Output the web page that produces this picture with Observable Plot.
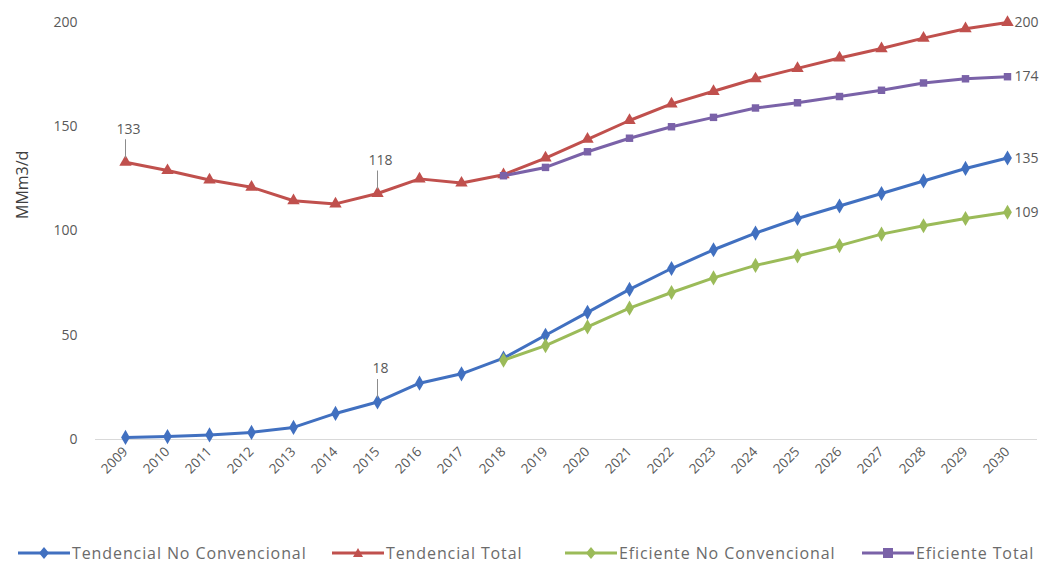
<!DOCTYPE html>
<html>
<head>
<meta charset="utf-8">
<script src="https://cdn.jsdelivr.net/npm/d3@7"></script>
<script src="https://cdn.jsdelivr.net/npm/@observablehq/plot@0.6"></script>
<style>
  body { margin: 0; background: #fff; font-family: "Open Sans", sans-serif; }
  #legend { position: relative; height: 47px; font-size: 16px; letter-spacing: 0.9px; color: #6b6b6b; }
  .item { position: absolute; top: 0; height: 66px; display: flex; align-items: center; white-space: nowrap; }
  .item svg { margin-right: 2px; }
</style>
</head>
<body>
<div id="chart"></div>
<div id="legend"></div>
<script>
// Years on the category axis
const years = ["2009","2010","2011","2012","2013","2014","2015","2016","2017","2018","2019",
               "2020","2021","2022","2023","2024","2025","2026","2027","2028","2029","2030"];
// Efficient scenarios start in 2018
const efYears = years.slice(9);

// Series values, MMm3/d
const tendNoConv = [1, 1.4, 2.2, 3.4, 5.8, 12.5, 18, 27, 31.5, 39, 50, 61, 72, 82, 91, 99, 106, 112, 118, 124, 130, 135];
const tendTotal  = [133, 129, 124.5, 121, 114.5, 113, 118, 125, 123, 127, 135, 144, 153, 161, 167, 173, 178, 183, 187.5, 192.5, 197, 200];
const efNoConv   = [38, 45, 54, 63, 70.5, 77.5, 83.5, 88, 93, 98.5, 102.5, 106, 109];
const efTotal    = [126.5, 130.5, 138, 144.5, 150, 154.5, 159, 161.5, 164.5, 167.5, 171, 173, 174];

const seriesNames = ["Tendencial No Convencional", "Tendencial Total", "Eficiente No Convencional", "Eficiente Total"];
const seriesColors = ["#4170c0", "#c0504d", "#9bbb59", "#7a62a8"];
const seriesSymbols = ["diamond", "triangle", "diamond", "square"];
const yTicks = [0, 50, 100, 150, 200];

// Callout labels pointing at specific points
const callouts = [
  {year: "2009", series: 1},
  {year: "2015", series: 1},
  {year: "2015", series: 0}
];

const seriesData = [
  years.map((year, i) => ({year, value: tendNoConv[i]})),
  years.map((year, i) => ({year, value: tendTotal[i]})),
  efYears.map((year, i) => ({year, value: efNoConv[i]})),
  efYears.map((year, i) => ({year, value: efTotal[i]}))
];

const calloutRows = callouts.map(c => ({
  year: c.year,
  value: seriesData[c.series].find(d => d.year === c.year).value
}));
const endRows = seriesData.map(s => s[s.length - 1]);

const marks = [
  Plot.ruleY([0], {stroke: "#d9d9d9", strokeWidth: 1}),
  Plot.axisY({ticks: yTicks, tickSize: 0, tickPadding: 18, fontSize: 14, label: null}),
  Plot.axisX({tickSize: 0, tickPadding: 10, tickRotate: -45, fontSize: 13.5, label: null}),
  Plot.text(["MMm3/d"], {frameAnchor: "left", dx: -73, dy: -12, rotate: -90, fontSize: 16, fill: "#404040"})
];

seriesData.forEach((rows, k) => {
  marks.push(Plot.line(rows, {x: "year", y: "value", stroke: seriesColors[k], strokeWidth: 3}));
  marks.push(Plot.dot(rows, {x: "year", y: "value", fill: seriesColors[k], symbol: seriesSymbols[k], r: seriesSymbols[k] === "square" ? 4.2 : 4.6}));
});

marks.push(
  Plot.link(calloutRows, {x1: "year", x2: "year", y1: d => d.value + 2, y2: d => d.value + 11, stroke: "#8c8c8c", strokeWidth: 1}),
  Plot.text(calloutRows, {x: "year", y: "value", text: d => String(d.value), dy: -33, dx: 3, fontSize: 14, fill: "#595959"}),
  Plot.text(endRows, {x: "year", y: "value", text: d => String(d.value), dx: 7, textAnchor: "start", fontSize: 14, fill: "#595959"})
);

const chart = Plot.plot({
  width: 1063,
  height: 520,
  marginLeft: 95,
  marginRight: 26,
  marginTop: 22,
  marginBottom: 81,
  style: {fontFamily: "Open Sans, sans-serif", color: "#595959", background: "#fff"},
  x: {type: "point", domain: years, padding: 0.5},
  y: {domain: [0, 200]},
  marks
});
document.getElementById("chart").append(chart);

// Legend below the plot
const legendLeft = [18, 332, 565, 862];
const legend = document.getElementById("legend");
seriesNames.forEach((name, k) => {
  const item = document.createElement("div");
  item.className = "item";
  item.style.left = legendLeft[k] + "px";
  const sym = seriesSymbols[k];
  let marker;
  if (sym === "square") marker = `<rect x="21" y="5" width="10" height="10" fill="${seriesColors[k]}"/>`;
  else if (sym === "triangle") marker = `<path d="M26 5 L31 14 L21 14 Z" fill="${seriesColors[k]}"/>`;
  else marker = `<path d="M26 4 L31 10 L26 16 L21 10 Z" fill="${seriesColors[k]}"/>`;
  item.innerHTML = `<svg width="52" height="20"><line x1="0" y1="10" x2="52" y2="10" stroke="${seriesColors[k]}" stroke-width="3"/>${marker}</svg><span>${name}</span>`;
  legend.append(item);
});
</script>
</body>
</html>
